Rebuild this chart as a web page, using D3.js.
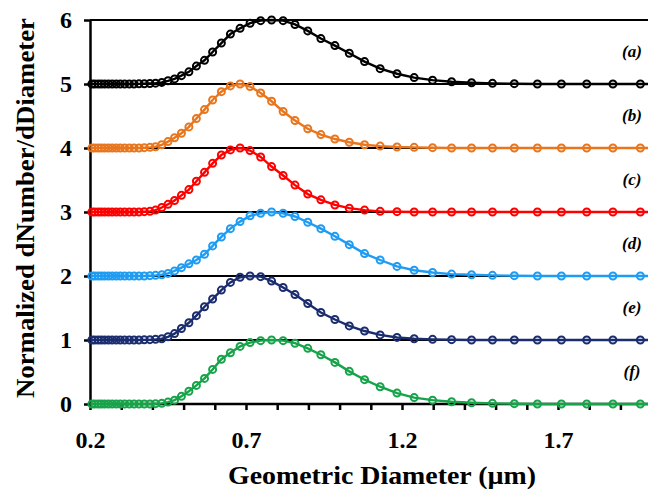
<!DOCTYPE html>
<html>
<head>
<meta charset="utf-8">
<script src="https://cdnjs.cloudflare.com/ajax/libs/d3/7.8.5/d3.min.js"></script>
<style>
  html, body { margin: 0; padding: 0; background: #fff; }
  text { font-family: "Liberation Serif", "Times New Roman", serif; font-weight: bold; }
</style>
</head>
<body>
<svg id="chart" width="648" height="489"></svg>
<script>
"use strict"

// geometric diameters (µm), shared by every series
var diameters = [0.206, 0.215, 0.226, 0.236, 0.247, 0.259, 0.271, 0.284, 0.297, 0.311,
    0.326, 0.341, 0.357, 0.374, 0.392, 0.410, 0.430, 0.450, 0.471, 0.493,
    0.517, 0.541, 0.567, 0.593, 0.621, 0.650, 0.681, 0.713, 0.747, 0.782,
    0.819, 0.857, 0.898, 0.940, 0.985, 1.031, 1.080, 1.130, 1.184, 1.239,
    1.298, 1.359, 1.423, 1.490, 1.560, 1.634, 1.711, 1.792, 1.876, 1.964, 2.057];

var seriesA = [0, 0, 0, 0, 0, 0, 0, 0, 0, 0, 0, 0, 0.002, 0.004, 0.008, 0.013, 0.025, 0.05, 0.08, 0.13,
    0.19, 0.28, 0.37, 0.50, 0.64, 0.78, 0.87, 0.95, 0.99, 1.00, 0.99, 0.93, 0.83, 0.71, 0.60,
    0.48, 0.35, 0.24, 0.16, 0.10, 0.06, 0.035, 0.02, 0.01, 0.005, 0, 0, 0, 0, 0, 0];
var seriesB = [0, 0, 0, 0, 0, 0, 0, 0, 0, 0, 0, 0, 0, 0.005, 0.01, 0.02, 0.05, 0.10, 0.16, 0.23,
    0.33, 0.46, 0.60, 0.75, 0.88, 0.97, 1.00, 0.96, 0.86, 0.73, 0.57, 0.43, 0.30, 0.21, 0.14,
    0.09, 0.05, 0.03, 0.015, 0.01, 0.005, 0, 0, 0, 0, 0, 0, 0, 0, 0, 0];
var seriesC = [0, 0, 0, 0, 0, 0, 0, 0, 0, 0, 0, 0, 0, 0.005, 0.01, 0.03, 0.07, 0.12, 0.18, 0.26,
    0.35, 0.48, 0.62, 0.76, 0.89, 0.97, 1.00, 0.96, 0.86, 0.71, 0.57, 0.42, 0.28, 0.19, 0.11,
    0.06, 0.03, 0.01, 0.005, 0, 0, 0, 0, 0, 0, 0, 0, 0, 0, 0, 0];
var seriesD = [0, 0, 0, 0, 0, 0, 0, 0, 0, 0, 0, 0, 0, 0, 0.005, 0.01, 0.02, 0.04, 0.08, 0.13,
    0.19, 0.25, 0.34, 0.47, 0.61, 0.74, 0.85, 0.94, 0.98, 1.00, 0.98, 0.93, 0.84, 0.74, 0.62,
    0.49, 0.35, 0.25, 0.15, 0.09, 0.055, 0.03, 0.02, 0.01, 0.005, 0, 0, 0, 0, 0, 0];
var seriesE = [0, 0, 0, 0, 0, 0, 0, 0, 0, 0, 0, 0, 0, 0.002, 0.005, 0.01, 0.02, 0.05, 0.10, 0.18,
    0.27, 0.38, 0.52, 0.64, 0.78, 0.90, 0.98, 1.00, 0.99, 0.92, 0.82, 0.71, 0.57, 0.43, 0.32,
    0.22, 0.14, 0.08, 0.04, 0.02, 0.01, 0.005, 0, 0, 0, 0, 0, 0, 0, 0, 0];
var seriesF = [0, 0, 0, 0, 0, 0, 0, 0, 0, 0, 0, 0, 0, 0, 0, 0.005, 0.01, 0.03, 0.06, 0.12,
    0.20, 0.29, 0.40, 0.54, 0.70, 0.80, 0.90, 0.96, 0.99, 1.00, 0.99, 0.95, 0.87, 0.77, 0.65,
    0.51, 0.38, 0.27, 0.17, 0.10, 0.06, 0.035, 0.02, 0.01, 0.005, 0, 0, 0, 0, 0, 0];

var seriesLabels = ["(a)", "(b)", "(c)", "(d)", "(e)", "(f)"];
var offsets = [5, 4, 3, 2, 1, 0];
var colors = ["#000000", "#e8761e", "#ff0000", "#1f9cf2", "#1b2d6e", "#17a34a"];
var allSeries = [seriesA, seriesB, seriesC, seriesD, seriesE, seriesF];

var xTicks = [0.2, 0.3, 0.4, 0.5, 0.6, 0.7, 0.8, 0.9, 1.0, 1.1, 1.2, 1.3, 1.4, 1.5, 1.6, 1.7, 1.8, 1.9, 2.0];
var xTickLabels = ["0.2", "0.7", "1.2", "1.7"];
var yTicks = [0, 1, 2, 3, 4, 5, 6];

var margin = { top: 20, left: 90, bottom: 85 };
var svg = d3.select("#chart"),
    W = +svg.attr("width"),
    H = +svg.attr("height");

var x = d3.scaleLinear().domain([0.2, 2.0]).range([margin.left, margin.left + 1.8 * 312]);
var y = d3.scaleLinear().domain([0, 6]).range([H - margin.bottom, margin.top]);

// horizontal reference lines at every integer
svg.append("g")
    .selectAll("line")
    .data(yTicks.slice(1))
    .join("line")
    .attr("x1", x(0.2))
    .attr("x2", W)
    .attr("y1", function(d) { return y(d) })
    .attr("y2", function(d) { return y(d) })
    .attr("stroke", "#000")
    .attr("stroke-width", 2);

var xAxis = d3.axisBottom(x)
    .tickValues(xTicks)
    .tickSizeInner(6)
    .tickSizeOuter(0)
    .tickFormat(function(d) {
        var s = d3.format(".1f")(d);
        return xTickLabels.indexOf(s) >= 0 ? s : "";
    });

svg.append("g")
    .attr("transform", "translate(0," + y(0) + ")")
    .call(xAxis)
    .call(function(g) {
        g.select(".domain").attr("stroke-width", 2.5).attr("d", "M" + x(0.2) + ",0H" + W);
        g.selectAll(".tick line").attr("stroke-width", 2.5);
        g.selectAll(".tick text")
            .attr("y", 44)
            .attr("dy", null)
            .style("font-size", "24px")
            .style("font-family", "Liberation Serif, serif")
            .style("font-weight", "bold")
            .attr("fill", "#000");
    });

var yAxis = d3.axisLeft(y)
    .tickValues(yTicks)
    .tickSizeInner(6)
    .tickSizeOuter(0)
    .tickFormat(d3.format("d"));

svg.append("g")
    .attr("transform", "translate(" + x(0.2) + ",0)")
    .call(yAxis)
    .call(function(g) {
        g.select(".domain").attr("stroke-width", 2.5);
        g.selectAll(".tick line").attr("stroke-width", 2.5);
        g.selectAll(".tick text")
            .attr("x", -18)
            .style("font-size", "24px")
            .style("font-family", "Liberation Serif, serif")
            .style("font-weight", "bold")
            .attr("fill", "#000");
    });

var line = d3.line()
    .x(function(d) { return x(d[0]) })
    .y(function(d) { return y(d[1]) });

allSeries.forEach(function(values, i) {
    var pts = diameters.map(function(dd, j) { return [dd, offsets[i] + values[j]] });
    var g = svg.append("g");
    g.append("path")
        .datum(pts)
        .attr("d", line)
        .attr("fill", "none")
        .attr("stroke", colors[i])
        .attr("stroke-width", 2.4);
    g.selectAll("circle")
        .data(pts)
        .join("circle")
        .attr("cx", function(d) { return x(d[0]) })
        .attr("cy", function(d) { return y(d[1]) })
        .attr("r", 3.5)
        .attr("fill", "none")
        .attr("stroke", colors[i])
        .attr("stroke-width", 2);

    svg.append("text")
        .attr("x", 632)
        .attr("y", y(offsets[i] + 0.5) + 5)
        .attr("text-anchor", "middle")
        .style("font-size", "17px")
        .style("font-style", "italic")
        .text(seriesLabels[i]);
});

// axis titles
svg.append("text")
    .attr("x", 382)
    .attr("y", 484)
    .attr("text-anchor", "middle")
    .attr("textLength", 308)
    .attr("lengthAdjust", "spacingAndGlyphs")
    .style("font-size", "26px")
    .text("Geometric Diameter (µm)");

svg.append("text")
    .attr("transform", "translate(34,208) rotate(-90)")
    .attr("text-anchor", "middle")
    .attr("textLength", 380)
    .attr("lengthAdjust", "spacingAndGlyphs")
    .style("font-size", "26px")
    .text("Normalized dNumber/dDiameter");
</script>
</body>
</html>
